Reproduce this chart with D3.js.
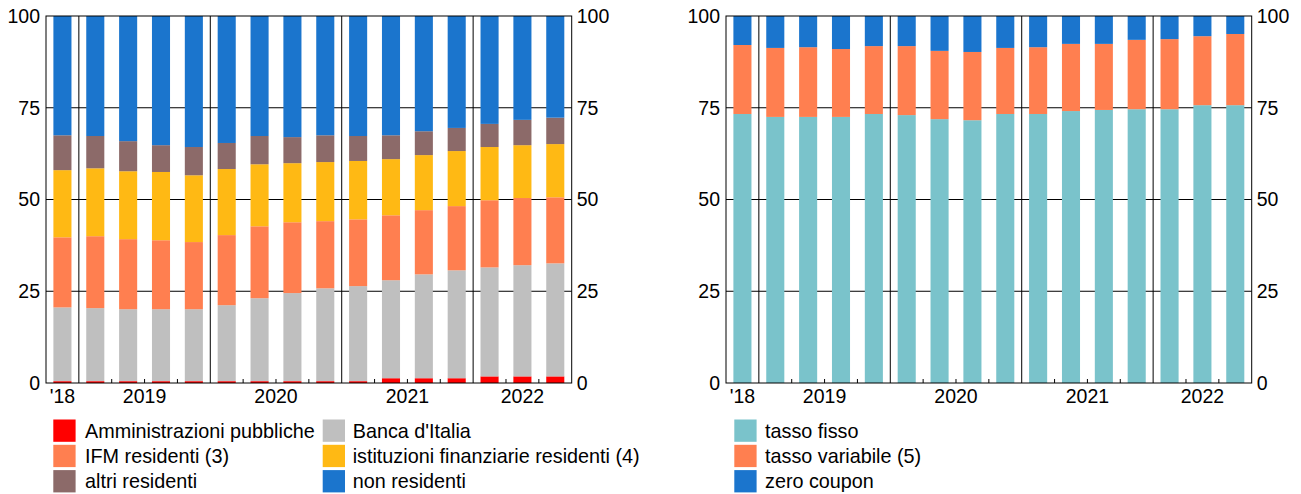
<!DOCTYPE html>
<html>
<head>
<meta charset="utf-8">
<script src="https://cdn.jsdelivr.net/npm/d3@7"></script>
<style>
  html, body { margin: 0; padding: 0; background: #fff; }
  svg { display: block; font-family: "Liberation Sans", Arial, Helvetica, sans-serif; }
</style>
</head>
<body>
<svg id="chart" width="1301" height="494"></svg>
<script>
// Quarterly periods, Q4 2018 – Q3 2022
const quarters = ["2018Q4",
  "2019Q1", "2019Q2", "2019Q3", "2019Q4",
  "2020Q1", "2020Q2", "2020Q3", "2020Q4",
  "2021Q1", "2021Q2", "2021Q3", "2021Q4",
  "2022Q1", "2022Q2", "2022Q3"];
const years = ["2018", "2019", "2020", "2021", "2022"];
const yearLabels = ["'18", "2019", "2020", "2021", "2022"];
const yTicks = [0, 25, 50, 75, 100];

// Holders of government securities (percentage shares)
const holderSeries = ["Amministrazioni pubbliche", "Banca d'Italia", "IFM residenti (3)",
  "istituzioni finanziarie residenti (4)", "altri residenti", "non residenti"];
const amministrazioniPubbliche = [0.5, 0.5, 0.5, 0.5, 0.5, 0.5, 0.5, 0.5, 0.5, 0.5, 1.3, 1.3, 1.3, 1.8, 1.8, 1.8];
const bancaItalia = [20.1, 19.9, 19.6, 19.6, 19.6, 20.7, 22.6, 24.0, 25.3, 25.9, 26.7, 28.3, 29.4, 29.7, 30.3, 30.8];
const ifmResidenti = [19.1, 19.6, 19.1, 18.8, 18.3, 19.1, 19.6, 19.3, 18.3, 18.2, 17.7, 17.5, 17.5, 18.3, 18.3, 18.0];
const istFinanziarie = [18.3, 18.5, 18.5, 18.6, 18.2, 18.0, 16.9, 16.1, 16.1, 15.9, 15.3, 15.0, 15.0, 14.5, 14.4, 14.5];
const altriResidenti = [9.5, 8.8, 8.2, 7.3, 7.7, 7.1, 7.7, 7.1, 7.3, 6.8, 6.5, 6.5, 6.3, 6.3, 6.9, 7.2];
const nonResidenti = [32.5, 32.7, 34.1, 35.2, 35.7, 34.6, 32.7, 33.0, 32.5, 32.7, 32.5, 31.4, 30.5, 29.4, 28.3, 27.7];

// Coupon structure (percentage shares)
const couponSeries = ["tasso fisso", "tasso variabile (5)", "zero coupon"];
const tassoFisso = [73.3, 72.5, 72.5, 72.5, 73.3, 73.0, 71.9, 71.6, 73.3, 73.3, 74.1, 74.4, 74.6, 74.6, 75.7, 75.7];
const tassoVariabile = [18.8, 18.8, 19.0, 18.5, 18.5, 18.8, 18.6, 18.6, 18.0, 18.2, 18.3, 18.0, 18.9, 19.1, 18.8, 19.4];
const zeroCoupon = [7.9, 8.7, 8.5, 9.0, 8.2, 8.2, 9.5, 9.8, 8.7, 8.5, 7.6, 7.6, 6.5, 6.3, 5.5, 4.9];

const holderColors = ["#ff0000", "#bfbfbf", "#ff7f50", "#ffb914", "#8c6a69", "#1b75cd"];
const couponColors = ["#7ac3cb", "#ff7f50", "#1b75cd"];

const svg = d3.select("#chart");
const FONT = 19.5;
const LEGEND_FONT = 19.8;

function drawPanel(opts) {
  const { x0, x1, yTop, yBottom, series, values, colors } = opts;
  const g = svg.append("g");

  const x = d3.scaleBand().domain(quarters).range([x0, x1])
    .paddingInner(0.45).paddingOuter(0.225);
  const y = d3.scaleLinear().domain([0, 100]).range([yBottom, yTop]);
  const step = x.step();
  const slotLeft = q => x(q) - step * x.paddingInner() / 2;

  // rows for d3.stack
  const rows = quarters.map((q, i) => {
    const r = { q };
    series.forEach((s, k) => { r[s] = values[k][i]; });
    return r;
  });
  const stacked = d3.stack().keys(series)(rows);

  // horizontal grid lines
  g.append("g").selectAll("line").data([25, 50, 75]).join("line")
    .attr("x1", x0).attr("x2", x1)
    .attr("y1", d => y(d)).attr("y2", d => y(d))
    .attr("stroke", "#000").attr("stroke-width", 1);

  // year separators
  const yearStarts = years.slice(1).map(yr => quarters.find(q => q.startsWith(yr)));
  g.append("g").selectAll("line").data(yearStarts).join("line")
    .attr("x1", d => slotLeft(d)).attr("x2", d => slotLeft(d))
    .attr("y1", yTop).attr("y2", yBottom)
    .attr("stroke", "#000").attr("stroke-width", 1);

  // stacked bars
  g.append("g").selectAll("g").data(stacked).join("g")
    .attr("fill", (d, i) => colors[i])
    .selectAll("rect").data(d => d).join("rect")
    .attr("x", d => x(d.data.q))
    .attr("width", x.bandwidth())
    .attr("y", d => y(d[1]))
    .attr("height", d => y(d[0]) - y(d[1]));

  // quarter ticks within each year
  const innerTicks = quarters.filter((q, i) => i > 0 && !yearStarts.includes(q));
  g.append("g").selectAll("line").data(innerTicks).join("line")
    .attr("x1", d => slotLeft(d)).attr("x2", d => slotLeft(d))
    .attr("y1", yBottom).attr("y2", yBottom - 4)
    .attr("stroke", "#000").attr("stroke-width", 1);

  // frame
  g.append("rect")
    .attr("x", x0).attr("y", yTop)
    .attr("width", x1 - x0).attr("height", yBottom - yTop)
    .attr("fill", "none").attr("stroke", "#000").attr("stroke-width", 1);

  // y axes on both sides
  const axL = d3.axisLeft(y).tickValues(yTicks).tickSize(0).tickPadding(6);
  const axR = d3.axisRight(y).tickValues(yTicks).tickSize(0).tickPadding(5);
  [[axL, x0], [axR, x1]].forEach(([ax, pos]) => {
    const a = g.append("g").attr("transform", `translate(${pos},0)`).call(ax);
    a.select(".domain").remove();
    a.selectAll("text").attr("font-size", FONT).attr("fill", "#000")
      .attr("font-family", "\"Liberation Sans\", Arial, sans-serif");
  });

  // year labels under the bars
  g.append("g").selectAll("text").data(years).join("text")
    .attr("x", yr => d3.mean(quarters.filter(q => q.startsWith(yr)), q => x(q) + x.bandwidth() / 2))
    .attr("y", yBottom + 20)
    .attr("text-anchor", "middle")
    .attr("font-size", FONT)
    .text((yr, i) => yearLabels[i]);
}

drawPanel({ x0: 46, x1: 571.7, yTop: 16, yBottom: 383,
  series: holderSeries,
  values: [amministrazioniPubbliche, bancaItalia, ifmResidenti, istFinanziarie, altriResidenti, nonResidenti],
  colors: holderColors });

drawPanel({ x0: 726, x1: 1251.7, yTop: 16, yBottom: 383,
  series: couponSeries,
  values: [tassoFisso, tassoVariabile, zeroCoupon],
  colors: couponColors });

// legends
function drawLegend(items, colors, columns) {
  const lg = svg.append("g");
  items.forEach((name, i) => {
    const col = columns[Math.floor(i / 3)];
    const row = i % 3;
    const top = 419.5 + row * 25.3;
    lg.append("rect").attr("x", col.sx).attr("y", top)
      .attr("width", 22.3).attr("height", 22.3).attr("fill", colors[i]);
    lg.append("text").attr("x", col.tx).attr("y", top + 11.2)
      .attr("dy", "0.35em").attr("font-size", LEGEND_FONT).attr("fill", "#000").text(name);
  });
}
// holder legend: first column red/orange/brown, second gray/yellow/blue
const holderLegendOrder = [0, 2, 4, 1, 3, 5];
drawLegend(holderLegendOrder.map(k => holderSeries[k]), holderLegendOrder.map(k => holderColors[k]),
  [{ sx: 53.3, tx: 85 }, { sx: 322.7, tx: 352.7 }]);
drawLegend(couponSeries, couponColors, [{ sx: 734.3, tx: 765 }]);
</script>
</body>
</html>
